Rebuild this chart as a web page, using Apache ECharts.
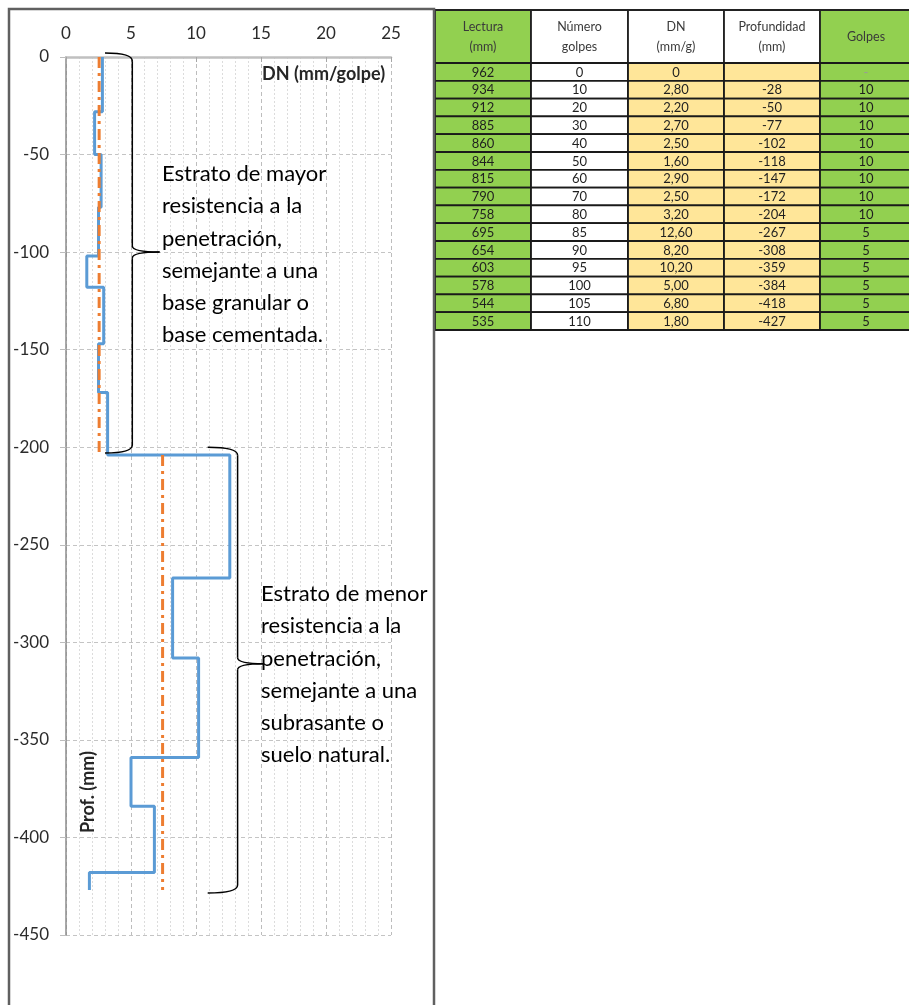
<!DOCTYPE html>
<html>
<head>
<meta charset="utf-8">
<script src="https://cdn.jsdelivr.net/npm/echarts@6/dist/echarts.min.js"></script>
<style>
html,body{margin:0;padding:0;background:#fff;}
#chart{width:909px;height:1005px;}
</style>
</head>
<body>
<div id="chart"></div>
<script>
// ---- Data ----
const lectura = [962, 934, 912, 885, 860, 844, 815, 790, 758, 695, 654, 603, 578, 544, 535];
const numeroGolpes = [0, 10, 20, 30, 40, 50, 60, 70, 80, 85, 90, 95, 100, 105, 110];
const dn = [0, 2.8, 2.2, 2.7, 2.5, 1.6, 2.9, 2.5, 3.2, 12.6, 8.2, 10.2, 5.0, 6.8, 1.8];
const profundidad = [0, -28, -50, -77, -102, -118, -147, -172, -204, -267, -308, -359, -384, -418, -427];
const golpes = ['-', 10, 10, 10, 10, 10, 10, 10, 10, 5, 5, 5, 5, 5, 5];
const dnLabels = ['0', '2,80', '2,20', '2,70', '2,50', '1,60', '2,90', '2,50', '3,20', '12,60', '8,20', '10,20', '5,00', '6,80', '1,80'];
const profLabels = ['', '-28', '-50', '-77', '-102', '-118', '-147', '-172', '-204', '-267', '-308', '-359', '-384', '-418', '-427'];
const tableHeaders = ['Lectura\n(mm)', 'Número\ngolpes', 'DN\n(mm/g)', 'Profundidad\n(mm)', 'Golpes'];
// strata (average DN lines)
const strataTop = [0, -204];
const strataBottom = [-204, -427];
const strataAvgDN = [2.55, 7.43];
const strataTexts = [
  'Estrato de mayor\nresistencia a la\npenetración,\nsemejante a una\nbase granular o\nbase cementada.',
  'Estrato de menor\nresistencia a la\npenetración,\nsemejante a una\nsubrasante o\nsuelo natural.'
];
const xTicks = {min: 0, max: 25, interval: 5};
const yTicks = {min: -450, max: 0, interval: 50};

// ---- Build step line from table data ----
const stepData = [];
for (let i = 1; i < dn.length; i++) {
  stepData.push([dn[i], profundidad[i - 1]]);
  stepData.push([dn[i], profundidad[i]]);
}

const FONT = 'Lato, "Open Sans", sans-serif';
const chart = echarts.init(document.getElementById('chart'), null, {renderer: 'canvas'});

const avgSeries = strataAvgDN.map((v, i) => ({
  type: 'line',
  data: [[v, strataTop[i]], [v, strataBottom[i]]],
  symbol: 'none',
  silent: true,
  z: 4,
  lineStyle: {color: '#ED7D31', width: 3, type: [11, 5, 3, 5]}
}));

chart.setOption({
  animation: false,
  backgroundColor: '#fff',
  grid: {left: 66, right: 518, top: 57, bottom: 70, containLabel: false},
  xAxis: {
    type: 'value', position: 'top',
    min: xTicks.min, max: xTicks.max, interval: xTicks.interval,
    axisLine: {show: true, lineStyle: {color: '#c0c0c0', width: 2.5}},
    axisTick: {show: true, inside: true, length: 5, lineStyle: {color: '#a6a6a6'}},
    axisLabel: {color: '#2b2b2b', fontSize: 17, fontFamily: FONT, margin: 15},
    splitLine: {show: true, lineStyle: {color: '#bdbdbd', type: [4, 3], width: 1}},
    minorTick: {show: false, splitNumber: 5},
    minorSplitLine: {show: true, lineStyle: {color: '#dcdcdc', type: [2, 2], width: 1}}
  },
  yAxis: {
    type: 'value',
    min: yTicks.min, max: yTicks.max, interval: yTicks.interval,
    axisLine: {show: true, onZero: false, lineStyle: {color: '#8c8c8c', width: 1.5}},
    axisTick: {show: true, length: 6, lineStyle: {color: '#bdbdbd'}},
    axisLabel: {color: '#2b2b2b', fontSize: 17, fontFamily: FONT, margin: 17},
    splitLine: {show: true, lineStyle: {color: '#c4c4c4', type: [4, 3], width: 1}}
  },
  series: [
    {
      type: 'line',
      data: stepData,
      symbol: 'none',
      silent: true,
      z: 3,
      lineStyle: {color: '#5B9BD5', width: 3}
    }
  ].concat(avgSeries)
});

// ---- Annotations (braces, texts, axis names, table, border) ----
function px(x, y) { return chart.convertToPixel({gridIndex: 0}, [x, y]); }

// Braces in data coordinates: [leftX, verticalX, tipX, topY, tipY, bottomY]
const braces = [
  [3.0, 5.1, 7.2, 2, -100, -203],
  [10.9, 13.2, 15.2, -200, -311, -428.5]
];
const graphics = [];
const braceStyle = {fill: null, stroke: '#000', lineWidth: 1.5};
function curve(x1, y1, cx, cy, x2, y2) {
  graphics.push({type: 'bezierCurve', z: 10, silent: true,
    shape: {x1: x1, y1: y1, x2: x2, y2: y2, cpx1: cx, cpy1: cy},
    style: braceStyle});
}
function seg(x1, y1, x2, y2) {
  graphics.push({type: 'line', z: 10, silent: true,
    shape: {x1: x1, y1: y1, x2: x2, y2: y2}, style: braceStyle});
}
braces.forEach(b => {
  const [l, t] = px(b[0], b[3]);
  const v = px(b[1], 0)[0];
  const [tip, ty] = px(b[2], b[4]);
  const bt = px(0, b[5])[1];
  curve(l, t, v, t, v, t + 8);
  seg(v, t + 8, v, ty - 6);
  curve(v, ty - 6, v, ty, tip, ty);
  curve(tip, ty, v, ty, v, ty + 6);
  seg(v, ty + 6, v, bt - 8);
  curve(v, bt - 8, v, bt, l, bt);
});

const textPos = [[162, 158], [261, 578]];
strataTexts.forEach((t, i) => {
  graphics.push({
    type: 'text', z: 10, silent: true,
    left: textPos[i][0], top: textPos[i][1],
    style: {text: t, fill: '#000', font: '22px ' + FONT, lineHeight: 32.2}
  });
});

graphics.push({
  type: 'text', z: 10, silent: true, left: 262, top: 65,
  style: {text: 'DN (mm/golpe)', fill: '#262626', font: 'bold 18px ' + FONT}
});
graphics.push({
  type: 'text', z: 10, silent: true, x: 97, y: 833, rotation: Math.PI / 2,
  style: {text: 'Prof. (mm)', fill: '#262626', font: 'bold 18px ' + FONT, textAlign: 'left', textVerticalAlign: 'bottom'}
});

// Outer chart border
graphics.push({
  type: 'rect', z: 20, silent: true,
  shape: {x: 9, y: 9, width: 425, height: 1010},
  style: {fill: null, stroke: '#606060', lineWidth: 2.5}
});

// Table
const colX = [435, 531, 628, 724, 820, 912];
const headTop = 10, headH = 53, rowH = 17.8;
const green = '#92D050', yellow = '#FFE699', white = '#FFFFFF';
const colFill = [green, white, yellow, yellow, green];
const headFill = [green, white, white, white, green];
const columns = [lectura.map(String), numeroGolpes.map(String), dnLabels, profLabels, golpes.map(String)];
for (let c = 0; c < 5; c++) {
  graphics.push({
    type: 'rect', z: 5, silent: true,
    shape: {x: colX[c], y: headTop, width: colX[c + 1] - colX[c], height: headH},
    style: {fill: headFill[c], stroke: '#222', lineWidth: 1.8}
  });
  graphics.push({
    type: 'text', z: 6, silent: true,
    x: (colX[c] + colX[c + 1]) / 2, y: headTop + headH / 2,
    style: {text: tableHeaders[c], fill: '#3a3a3a', font: '12.5px ' + FONT, textAlign: 'center', textVerticalAlign: 'middle', lineHeight: 20}
  });
  for (let r = 0; r < lectura.length; r++) {
    const y0 = headTop + headH + r * rowH;
    graphics.push({
      type: 'rect', z: 5, silent: true,
      shape: {x: colX[c], y: y0, width: colX[c + 1] - colX[c], height: rowH},
      style: {fill: colFill[c], stroke: '#1a1a1a', lineWidth: 1.8}
    });
    graphics.push({
      type: 'text', z: 6, silent: true,
      x: (colX[c] + colX[c + 1]) / 2, y: y0 + rowH / 2 + 0.5,
      style: {text: columns[c][r], fill: (c === 4 && r === 0) ? '#9a9a9a' : '#1f1f1f', font: '13px ' + FONT, textAlign: 'center', textVerticalAlign: 'middle'}
    });
  }
}

chart.setOption({graphic: {elements: graphics}});
</script>
</body>
</html>
